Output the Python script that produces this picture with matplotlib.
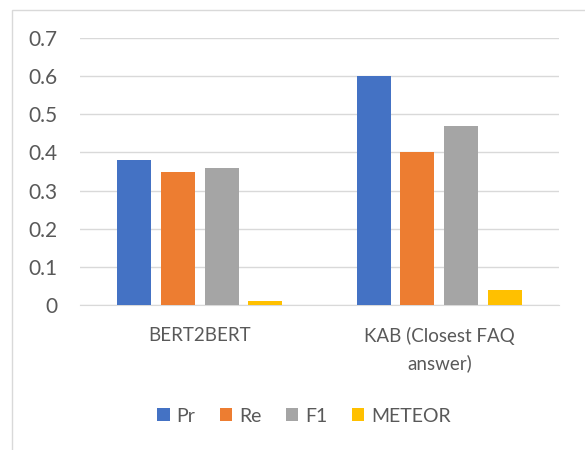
import matplotlib.pyplot as plt
import numpy as np

categories = ['BERT2BERT', 'KAB (Closest FAQ\nanswer)']
series = ['Pr', 'Re', 'F1', 'METEOR']
pr = [0.38, 0.60]
re = [0.35, 0.40]
f1 = [0.36, 0.47]
meteor = [0.01, 0.04]
yticks = [0, 0.1, 0.2, 0.3, 0.4, 0.5, 0.6, 0.7]

colors = ['#4472C4', '#ED7D31', '#A5A5A5', '#FFC000']
txt = '#595959'
plt.rcParams['font.family'] = ['Lato', 'DejaVu Sans']

fig = plt.figure(figsize=(5.85, 4.5), dpi=100)
# chart frame like the excel chart area
fig.patches.append(plt.Rectangle((12 / 585, -0.1), 1.2, 1.1 - 10 / 450, transform=fig.transFigure,
                                 fill=False, edgecolor='#D9D9D9', linewidth=1))
ax = fig.add_axes([80 / 585, 1 - 305 / 450, 479 / 585, 267 / 450])

x = np.arange(len(categories))
w = 0.142
step = 0.1825
for i, (name, vals) in enumerate(zip(series, [pr, re, f1, meteor])):
    ax.bar(x + (i - 1.5) * step, vals, width=w, color=colors[i], label=name, zorder=3)

ax.set_xlim(-0.5, 1.5)
ax.set_ylim(0, 0.7)
ax.set_yticks(yticks)
ax.set_yticklabels(['0' if v == 0 else f'{v:.1f}' for v in yticks], color=txt, fontsize=15)
ax.set_xticks(x)
ax.set_xticklabels(categories, color=txt, fontsize=13.5, linespacing=1.65)
ax.tick_params(axis='both', length=0)
ax.tick_params(axis='y', pad=16.5)
ax.tick_params(axis='x', pad=15.5)
ax.grid(axis='y', color='#D9D9D9', linewidth=1, zorder=0)
for s in ['top', 'right', 'left']:
    ax.spines[s].set_visible(False)
ax.spines['bottom'].set_color('#D9D9D9')

leg = ax.legend(loc='center', bbox_to_anchor=(304 / 585, 1 - 416 / 450), bbox_transform=fig.transFigure,
                ncol=4, frameon=False, fontsize=14, handlelength=0.65, handleheight=0.65,
                handletextpad=0.35, columnspacing=1.25)
for t in leg.get_texts():
    t.set_color(txt)

fig.savefig('out.png')
